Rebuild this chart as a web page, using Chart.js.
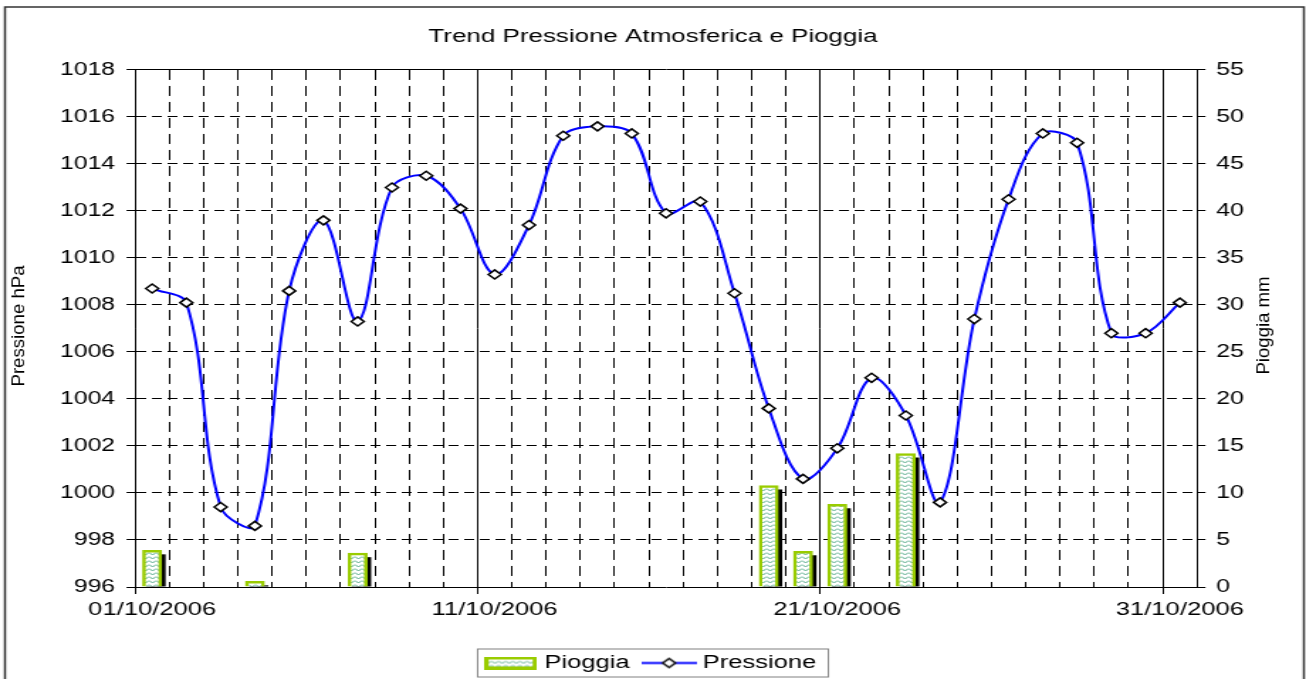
<!DOCTYPE html>
<html lang="it">
<head>
<meta charset="utf-8">
<title>Trend Pressione Atmosferica e Pioggia</title>
<script src="https://cdn.jsdelivr.net/npm/chart.js@4.4.1/dist/chart.umd.min.js"></script>
<style>
  html, body { margin: 0; padding: 0; background: #fff; overflow: hidden; }
  /* the original picture is stretched sideways, so the chart is drawn narrow and widened */
  #chart-wrap { width: 920px; height: 679px; transform: scaleX(1.41957); transform-origin: 0 0; }
</style>
</head>
<body>
<div id="chart-wrap"><canvas id="chart" width="920" height="679"></canvas></div>
<script>
// Data - October 2006
const days = [1, 2, 3, 4, 5, 6, 7, 8, 9, 10, 11, 12, 13, 14, 15, 16, 17, 18, 19, 20, 21, 22, 23, 24, 25, 26, 27, 28, 29, 30, 31];
const pressure = [1008.7, 1008.1, 999.4, 998.6, 1008.6, 1011.6, 1007.3, 1013.0, 1013.5, 1012.1, 1009.3, 1011.4, 1015.2, 1015.6, 1015.3, 1011.9,
  1012.4, 1008.5, 1003.6, 1000.6, 1001.9, 1004.9, 1003.3, 999.6, 1007.4, 1012.5, 1015.3, 1014.9, 1006.8, 1006.8, 1008.1];
const rain = [3.9, 0, 0, 0.6, 0, 0, 3.6, 0, 0, 0, 0, 0, 0, 0, 0, 0, 0, 0, 10.8, 3.8, 8.8, 0, 14.2, 0, 0, 0, 0, 0, 0, 0, 0];
const labelDays = [1, 11, 21, 31];
const dateLabels = ['01/10/2006', '11/10/2006', '21/10/2006', '31/10/2006'];

const FONT = 'Liberation Sans';
const GREEN = '#99cc00';
const BLUE = '#0000ff';

Chart.defaults.font.family = FONT;
Chart.defaults.color = '#000';

// Hatch pattern used inside the rain bars
function makeHatch() {
  const c = document.createElement('canvas');
  c.width = 5;
  c.height = 4;
  const g = c.getContext('2d');
  g.fillStyle = '#fff';
  g.fillRect(0, 0, 5, 4);
  g.strokeStyle = '#55aa88';
  g.lineWidth = 1;
  g.beginPath();
  g.moveTo(0, 0.5);
  g.lineTo(2.5, 3);
  g.lineTo(5, 0.5);
  g.stroke();
  return g.createPattern(c, 'repeat');
}
const hatch = makeHatch();

// Legend icons (bar box and line with marker)
function makeRainIcon() {
  const c = document.createElement('canvas');
  c.width = 37;
  c.height = 13;
  const g = c.getContext('2d');
  g.fillStyle = GREEN;
  g.fillRect(0, 0, 37, 13);
  g.fillStyle = hatch;
  g.fillRect(3, 3, 31, 7);
  return c;
}

function makePressureIcon() {
  const c = document.createElement('canvas');
  c.width = 39;
  c.height = 13;
  const g = c.getContext('2d');
  g.strokeStyle = BLUE;
  g.lineWidth = 2;
  g.beginPath();
  g.moveTo(0, 6.5);
  g.lineTo(39, 6.5);
  g.stroke();
  g.fillStyle = '#fff';
  g.strokeStyle = '#000';
  g.lineWidth = 1.5;
  g.beginPath();
  g.moveTo(19.5, 2);
  g.lineTo(24, 6.5);
  g.lineTo(19.5, 11);
  g.lineTo(15, 6.5);
  g.closePath();
  g.fill();
  g.stroke();
  return c;
}
const rainIcon = makeRainIcon();
const pressureIcon = makePressureIcon();

// Black drop shadow behind each bar
const barShadow = {
  id: 'barShadow',
  beforeDatasetDraw(chart, args) {
    if (args.meta.type !== 'bar') return;
    const ctx = chart.ctx;
    const area = chart.chartArea;
    ctx.save();
    ctx.beginPath();
    ctx.rect(area.left, area.top, area.width, area.height);
    ctx.clip();
    ctx.fillStyle = '#000';
    args.meta.data.forEach(bar => {
      const { x, y, base, width } = bar.getProps(['x', 'y', 'base', 'width'], true);
      if (base - y > 4) {
        ctx.fillRect(x - width / 2 + 2.8, y + 4, width, base - y - 4);
      }
    });
    ctx.restore();
  }
};

function drawVerticalTitle(ctx, text, x, y) {
  ctx.save();
  ctx.translate(x, y);
  ctx.rotate(-Math.PI / 2);
  ctx.scale(1.55, 1);
  ctx.fillText(text, 0, 0);
  ctx.restore();
}

// Outer frame, axis titles and legend border
const decorations = {
  id: 'decorations',
  afterDraw(chart) {
    const ctx = chart.ctx;
    ctx.save();
    ctx.strokeStyle = '#333';
    ctx.lineWidth = 1.5;
    ctx.strokeRect(3.5, 7, 915, 700);

    ctx.fillStyle = '#000';
    ctx.font = '12px "' + FONT + '"';
    ctx.textAlign = 'center';
    ctx.textBaseline = 'middle';
    drawVerticalTitle(ctx, 'Pressione hPa', 14.1, 326);
    drawVerticalTitle(ctx, 'Pioggia mm', 891.1, 325.5);

    const boxes = chart.legend.legendHitBoxes;
    if (boxes && boxes.length) {
      const first = boxes[0];
      const last = boxes[boxes.length - 1];
      const left = first.left - 8.5;
      const right = last.left + last.width + 8.5;
      const mid = first.top + 9;
      ctx.strokeStyle = '#808080';
      ctx.lineWidth = 1;
      ctx.strokeRect(left, mid - 14, right - left, 28);
    }
    ctx.restore();
  }
};

const ctx = document.getElementById('chart').getContext('2d');
new Chart(ctx, {
  type: 'line',
  data: {
    datasets: [
      {
        type: 'bar',
        label: 'Pioggia',
        data: days.map((d, i) => ({ x: d, y: rain[i] })).filter(p => p.y > 0),
        xAxisID: 'x',
        yAxisID: 'y2',
        backgroundColor: hatch,
        borderColor: GREEN,
        borderWidth: 2.5,
        barThickness: 13.4,
        order: 1
      },
      {
        type: 'line',
        label: 'Pressione',
        data: days.map((d, i) => ({ x: d, y: pressure[i] })),
        xAxisID: 'x',
        yAxisID: 'y',
        borderColor: BLUE,
        borderWidth: 2,
        tension: 0.35,
        fill: false,
        pointStyle: 'rectRot',
        pointRadius: 4.5,
        pointBackgroundColor: '#fff',
        pointBorderColor: '#000',
        pointBorderWidth: 1.5,
        order: 0
      }
    ]
  },
  options: {
    responsive: false,
    devicePixelRatio: 1,
    animation: false,
    layout: { padding: { left: 0, right: 0, top: 0, bottom: -3 } },
    plugins: {
      tooltip: { enabled: false },
      title: {
        display: true,
        text: 'Trend Pressione Atmosferica e Pioggia',
        color: '#000',
        font: { size: 18.3, weight: 'normal' },
        padding: { top: 26, bottom: 22 }
      },
      legend: {
        position: 'bottom',
        labels: {
          usePointStyle: true,
          pointStyleWidth: 29.5,
          padding: 13,
          color: '#000',
          font: { size: 18 },
          generateLabels: () => [
            { text: 'Pioggia', pointStyle: rainIcon, datasetIndex: 0, hidden: false, lineWidth: 0 },
            { text: 'Pressione', pointStyle: pressureIcon, datasetIndex: 1, hidden: false, lineWidth: 0 }
          ]
        }
      }
    },
    scales: {
      x: {
        type: 'linear',
        min: 0.5,
        max: 31.5,
        offset: false,
        afterBuildTicks: scale => { scale.ticks = days.map(d => ({ value: d })); },
        afterFit: scale => { scale.height = 54; },
        grid: {
          offset: true,
          color: '#000',
          lineWidth: 1,
          drawTicks: true,
          tickLength: 7,
          tickColor: c => (c.index % 10 === 0 ? '#000' : 'rgba(0,0,0,0)'),
          tickBorderDash: []
        },
        border: {
          display: true,
          color: '#000',
          width: 1,
          dash: c => (c.index % 10 === 0 ? [] : [10, 6])
        },
        ticks: {
          autoSkip: false,
          maxRotation: 0,
          padding: 5,
          font: { size: 18 },
          color: '#000',
          callback: value => {
            const i = labelDays.indexOf(value);
            return i >= 0 ? dateLabels[i] : '';
          }
        }
      },
      y: {
        type: 'linear',
        position: 'left',
        min: 996,
        max: 1018,
        afterFit: scale => { scale.width = 95.1; },
        grid: {
          color: '#000',
          lineWidth: 1,
          tickLength: 6,
          tickColor: '#000',
          tickBorderDash: []
        },
        border: {
          display: true,
          color: '#000',
          width: 1,
          dash: c => (c.tick && c.tick.value === 1018 ? [] : [7, 4])
        },
        ticks: { stepSize: 2, padding: 8, font: { size: 17.5 }, color: '#000', callback: v => String(v) }
      },
      y2: {
        type: 'linear',
        position: 'right',
        min: 0,
        max: 55,
        afterFit: scale => { scale.width = 76.8; },
        grid: {
          drawOnChartArea: false,
          tickLength: 6,
          tickColor: '#000'
        },
        border: { display: true, color: '#000', width: 1 },
        ticks: { stepSize: 5, padding: 7.5, font: { size: 17.5 }, color: '#000', callback: v => String(v) }
      }
    }
  },
  plugins: [barShadow, decorations]
});
</script>
</body>
</html>
